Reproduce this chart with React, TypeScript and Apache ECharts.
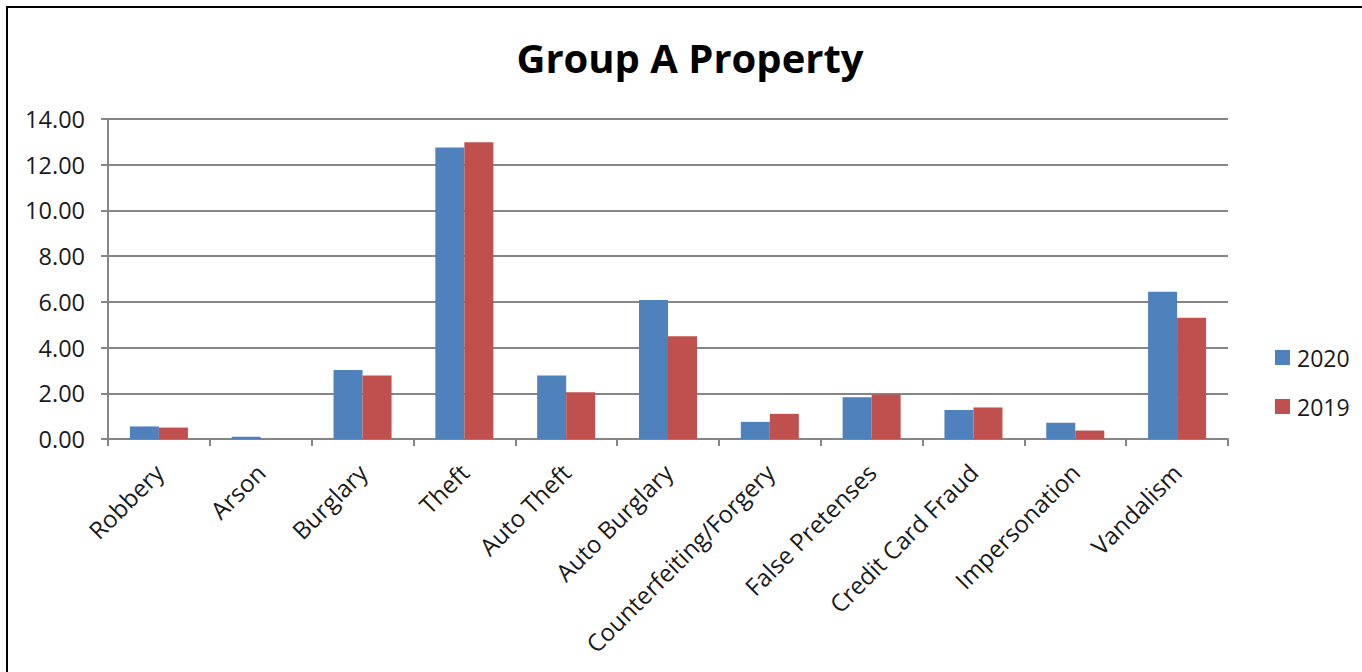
import React, { useEffect, useRef } from "react";
import * as echarts from "echarts";

const titleText = "Group A Property";
const categories = [
  "Robbery",
  "Arson",
  "Burglary",
  "Theft",
  "Auto Theft",
  "Auto Burglary",
  "Counterfeiting/Forgery",
  "False Pretenses",
  "Credit Card Fraud",
  "Impersonation",
  "Vandalism",
];
const seriesNames = ["2020", "2019"];
const values2020 = [0.55, 0.1, 3.02, 12.75, 2.78, 6.08, 0.75, 1.83, 1.27, 0.71, 6.44];
const values2019 = [0.5, 0, 2.78, 12.98, 2.05, 4.5, 1.1, 1.95, 1.38, 0.37, 5.3];
const yTicks = { min: 0, max: 14, interval: 2 };

const FONT = "'Open Sans', 'Noto Sans', sans-serif";

export default function App() {
  const ref = useRef<HTMLDivElement>(null);
  useEffect(() => {
    document.body.style.margin = "0";
    if (!ref.current) return;
    const chart = echarts.init(ref.current, undefined, { renderer: "svg" });
    chart.setOption({
      animation: false,
      backgroundColor: "#ffffff",
      textStyle: { fontFamily: FONT },
      grid: { left: 108, right: 134, top: 119, bottom: 233, containLabel: false },
      graphic: [
        {
          type: "rect",
          shape: { x: 7, y: 7, width: 1400, height: 720 },
          style: { fill: "none", stroke: "#000", lineWidth: 2 },
          silent: true,
        },
        {
          type: "text",
          x: 690,
          y: 57,
          style: {
            text: titleText,
            fontFamily: FONT,
            fontSize: 40,
            fontWeight: "bold",
            fill: "#000",
            align: "center",
            verticalAlign: "middle",
          },
        },
      ],
      legend: {
        orient: "vertical",
        left: 1270,
        top: 340,
        itemWidth: 15,
        itemHeight: 15,
        itemGap: 24,
        icon: "rect",
        data: seriesNames,
        textStyle: {
          fontFamily: FONT,
          fontSize: 23,
          color: "#1a1a1a",
          lineHeight: 25,
          padding: [0, 0, 0, 2],
        },
      },
      xAxis: {
        type: "category",
        data: categories,
        axisLine: { lineStyle: { color: "#868686", width: 2 } },
        axisTick: { show: true, length: 7, alignWithLabel: false, lineStyle: { color: "#868686", width: 2 } },
        axisLabel: {
          rotate: 45,
          interval: 0,
          margin: 29,
          fontFamily: FONT,
          fontSize: 24,
          color: "#1a1a1a",
        },
      },
      yAxis: {
        type: "value",
        min: yTicks.min,
        max: yTicks.max,
        interval: yTicks.interval,
        axisLine: { show: true, lineStyle: { color: "#868686", width: 2 } },
        axisTick: { show: true, length: 7, lineStyle: { color: "#868686", width: 2 } },
        splitLine: { show: true, lineStyle: { color: "#868686", width: 2 } },
        axisLabel: {
          margin: 23,
          fontFamily: FONT,
          fontSize: 23.5,
          color: "#1a1a1a",
          formatter: (v: number) => v.toFixed(2),
        },
      },
      series: [
        {
          name: seriesNames[0],
          type: "bar",
          data: values2020,
          itemStyle: { color: "#4F81BD" },
          barGap: "0%",
          barCategoryGap: "43%",
        },
        {
          name: seriesNames[1],
          type: "bar",
          data: values2019,
          itemStyle: { color: "#C0504D" },
          barGap: "0%",
          barCategoryGap: "43%",
        },
      ],
    });
    return () => chart.dispose();
  }, []);
  return <div ref={ref} style={{ width: 1362, height: 672 }} />;
}
